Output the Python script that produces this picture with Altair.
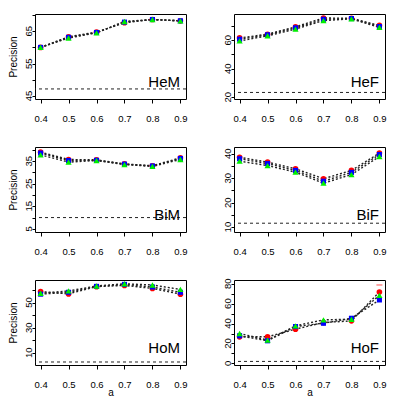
import altair as alt
import pandas as pd

a_vals = [0.4, 0.5, 0.6, 0.7, 0.8, 0.9]

# ---- panel data (precision values) ----
hem_red = [60.0, 63.3, 64.7, 67.6, 68.6, 68.2]
hem_blue = [60.0, 63.1, 64.6, 67.8, 68.6, 68.2]
hem_green = [60.0, 62.9, 64.5, 68.0, 68.6, 68.2]

hef_red = [61.6, 64.2, 69.4, 75.6, 75.4, 70.4]
hef_blue = [60.7, 63.8, 68.7, 74.7, 75.2, 69.6]
hef_green = [59.5, 63.1, 67.8, 73.8, 75.0, 69.0]

bim_red = [39.0, 35.75, 35.6, 33.8, 33.0, 36.5]
bim_blue = [38.6, 35.3, 35.4, 33.7, 32.9, 36.2]
bim_green = [37.8, 34.6, 35.3, 33.5, 32.7, 35.75]

bif_red = [38.6, 36.6, 33.9, 29.8, 33.2, 40.3]
bif_blue = [38.0, 36.0, 33.2, 28.8, 32.4, 39.7]
bif_green = [37.0, 35.2, 32.5, 28.0, 31.5, 38.9]

hom_red = [58.8, 56.9, 62.7, 63.7, 61.3, 56.7]
hom_blue = [56.7, 58.2, 62.9, 64.5, 62.4, 58.2]
hom_green = [57.4, 59.3, 63.2, 65.0, 64.0, 60.5]

hof_red = [26.7, 26.7, 34.4, 41.0, 42.7, 71.7]
hof_blue = [27.7, 22.7, 37.0, 40.3, 45.3, 63.7]
hof_green = [30.0, 23.4, 37.7, 43.7, 44.3, 68.3]
hof_red_err = [0, 0, 0, 0, 0, 7.0]

panel_names = ["HeM", "HeF", "BiM", "BiF", "HoM", "HoF"]
baselines = [47.2, 23.3, 10.0, 11.6, 2.6, 2.0]
y_domains = [[44.1, 70.3], [18.7, 78.4], [3.6, 41.3], [8.0, 42.8], [0.2, 68.0], [-1.6, 83.7]]
y_ticks = [[45, 50, 55, 60, 65, 70], [20, 30, 40, 50, 60, 70], [5, 10, 15, 20, 25, 30, 35, 40],
           [10, 15, 20, 25, 30, 35, 40], [10, 20, 30, 40, 50, 60], [0, 10, 20, 30, 40, 50, 60, 70, 80]]
y_labels = [[45, 55, 65], [20, 40, 60], [5, 15, 25, 35], [10, 20, 30, 40], [10, 30, 50], [0, 20, 40, 60, 80]]
series_values = [
    (hem_red, hem_blue, hem_green),
    (hef_red, hef_blue, hef_green),
    (bim_red, bim_blue, bim_green),
    (bif_red, bif_blue, bif_green),
    (hom_red, hom_blue, hom_green),
    (hof_red, hof_blue, hof_green),
]

W, H = 151, 85
FONT = "Liberation Sans"
series_style = [("red", "circle", 32), ("blue", "square", 26), ("#00EE00", "triangle-up", 38)]

common_axis = dict(labelFont=FONT, titleFont=FONT, labelFontSize=9.5, titleFontSize=10,
                   labelColor="black", titleColor="black", tickColor="black", domain=False,
                   grid=False, titleFontWeight="normal", labelFlush=False, labelOverlap=False)


def make_panel(i):
    name = panel_names[i]
    left = i % 2 == 0
    bottom = i >= 4
    x_axis = dict(values=a_vals, format=".1f", tickSize=4, labelPadding=10, **common_axis)
    if bottom:
        x_axis.update(title="a", titleY=30, titleBaseline="alphabetic")
    else:
        x_axis.update(title=None)
    x_enc = alt.X("a:Q", scale=alt.Scale(domain=[0.38, 0.92], nice=False, zero=False),
                  axis=alt.Axis(**x_axis))
    ysc = alt.Scale(domain=y_domains[i], nice=False, zero=False)
    y_axis = dict(values=y_ticks[i], labels=False, tickSize=3, **common_axis)
    if left:
        y_axis.update(title="Precision", titlePadding=13)
    else:
        y_axis.update(title=None)
    y_of = lambda f: alt.Y(f, scale=ysc, axis=alt.Axis(**y_axis))

    layers = []
    frames = []
    for (col, shp, sz), vals in zip(series_style, series_values[i]):
        frames.append(pd.DataFrame({"a": a_vals, "v": vals, "s": col}))
    for df in frames:
        layers.append(alt.Chart(df).mark_line(color="#222222", strokeWidth=1.4, strokeDash=[2, 2])
                      .encode(x=x_enc, y=y_of("v:Q")))
    if name == "HoF":
        edf = pd.DataFrame({"a": a_vals, "v": hof_red, "e": hof_red_err})
        edf = edf[edf["e"] > 0].copy()
        edf["hi"] = edf["v"] + edf["e"]
        layers.append(alt.Chart(edf).mark_tick(color="red", orient="horizontal", size=6, thickness=1)
                      .encode(x=x_enc, y=y_of("hi:Q")))
    for (col, shp, sz), df in zip(series_style, frames):
        layers.append(alt.Chart(df).mark_point(filled=True, opacity=1, color=col, shape=shp, size=sz)
                      .encode(x=x_enc, y=y_of("v:Q")))
    layers.append(alt.Chart(pd.DataFrame({"b": [baselines[i]]}))
                  .mark_rule(color="#222222", strokeWidth=1, strokeDash=[3, 3])
                  .encode(y=y_of("b:Q")))
    # y tick labels (R style, parallel to the axis)
    layers.append(alt.Chart(pd.DataFrame({"v": y_labels[i]}))
                  .mark_text(angle=270, align="center", baseline="alphabetic", fontSize=9.5,
                             font=FONT, color="black")
                  .encode(x=alt.value(-3), y=y_of("v:Q"), text="v:Q"))
    layers.append(alt.Chart(pd.DataFrame({"t": [name]}))
                  .mark_text(align="right", baseline="alphabetic", fontSize=15, font=FONT, color="black")
                  .encode(x=alt.value(W - 6), y=alt.value(H - 12.5), text="t:N"))
    return alt.layer(*layers).properties(width=W, height=H)


chart = alt.concat(*[make_panel(i) for i in range(6)], columns=2, spacing=48, bounds="flush").properties(
    padding={"left": 0, "top": 5, "right": 0, "bottom": 0}
).configure_view(stroke="black", strokeWidth=1)

chart.save("out.html", embed_options={"renderer": "svg", "actions": False})
